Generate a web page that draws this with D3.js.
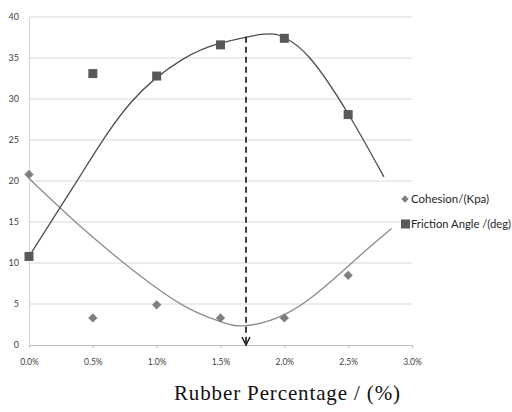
<!DOCTYPE html>
<html>
<head>
<meta charset="utf-8">
<script src="https://cdn.jsdelivr.net/npm/d3@7"></script>
<style>
  html, body { margin: 0; padding: 0; background: #fff; }
  svg { display: block; }
</style>
</head>
<body>
<svg id="chart" width="512" height="412"></svg>
<script>
// Rubber content (%) for each test mix
const rubberPct = [0, 0.5, 1.0, 1.5, 2.0, 2.5];
// Measured cohesion (kPa) and friction angle (deg)
const cohesion = [20.8, 3.3, 4.9, 3.3, 3.3, 8.5];
const friction = [10.8, 33.1, 32.8, 36.6, 37.4, 28.1];
// Trend curves, sampled as [rubber %, value]
const frictionTrend = [[0, 10.8], [0.4, 20.6], [0.8, 29.6], [1.2, 34.8],
  [1.5, 36.8], [1.84, 37.9], [2.0, 37.5], [2.2, 35], [2.5, 28.2], [2.78, 20.5]];
const cohesionTrend = [[0, 20.3], [0.4, 14.5], [0.8, 9.3], [1.2, 4.9], [1.5, 2.85],
  [1.7, 2.35], [2.0, 3.7], [2.3, 6.9], [2.6, 11.0], [2.84, 14.2]];
// Optimum rubber content marker
const optimumPct = 1.7;
const optimumTop = 37.6;
// Axis ticks
const xTicks = [0, 0.5, 1.0, 1.5, 2.0, 2.5, 3.0];
const yTicks = [0, 5, 10, 15, 20, 25, 30, 35, 40];
const seriesNames = ["Cohesion/(Kpa)", "Friction Angle /(deg)"];
const xTitle = "Rubber Percentage / (%)";

const svg = d3.select("#chart");
const x = d3.scaleLinear().domain([0, 3]).range([29, 412]);
const y = d3.scaleLinear().domain([0, 40]).range([345, 17]);

const tickFont = "Lato, 'Open Sans', sans-serif";

// horizontal gridlines
svg.append("g").selectAll("line").data(yTicks.filter(d => d > 0)).join("line")
  .attr("x1", x(0)).attr("x2", x(3))
  .attr("y1", d => y(d)).attr("y2", d => y(d))
  .attr("stroke", "#d9d9d9").attr("stroke-width", 1.2);

// y axis
const yAxis = svg.append("g").attr("transform", `translate(${x(0)},0)`)
  .call(d3.axisLeft(y).tickValues(yTicks).tickSize(0).tickPadding(10).tickFormat(d3.format("d")));
yAxis.select(".domain").attr("stroke", "#d9d9d9").attr("stroke-width", 1.2);
yAxis.selectAll("text").attr("font-family", tickFont).attr("font-size", 9).attr("fill", "#404040");

// x axis
const xAxis = svg.append("g").attr("transform", `translate(0,${y(0)})`)
  .call(d3.axisBottom(x).tickValues(xTicks).tickSize(3).tickPadding(11).tickFormat(d => d.toFixed(1) + "%"));
xAxis.select(".domain").attr("stroke", "#bfbfbf").attr("stroke-width", 1);
xAxis.selectAll(".tick line").attr("stroke", "#bfbfbf");
xAxis.selectAll("text").attr("font-family", tickFont).attr("font-size", 8.5).attr("fill", "#404040");

// trend curves
const line = d3.line().x(d => x(d[0])).y(d => y(d[1])).curve(d3.curveNatural);
svg.append("path").datum(cohesionTrend).attr("d", line)
  .attr("fill", "none").attr("stroke", "#8c8c8c").attr("stroke-width", 1.3);
svg.append("path").datum(frictionTrend).attr("d", line)
  .attr("fill", "none").attr("stroke", "#4d4d4d").attr("stroke-width", 1.3);

// optimum marker: dashed drop line with open arrow
svg.append("line")
  .attr("x1", x(optimumPct)).attr("x2", x(optimumPct))
  .attr("y1", y(optimumTop)).attr("y2", y(0) - 1)
  .attr("stroke", "#111").attr("stroke-width", 1.6).attr("stroke-dasharray", "6,4");
svg.append("path")
  .attr("d", `M${x(optimumPct) - 4},${y(0) - 8} L${x(optimumPct)},${y(0)} L${x(optimumPct) + 4},${y(0) - 8}`)
  .attr("fill", "none").attr("stroke", "#111").attr("stroke-width", 1.4);

// data markers
svg.append("g").selectAll("rect").data(rubberPct).join("rect")
  .attr("x", -3.3).attr("y", -3.3).attr("width", 6.6).attr("height", 6.6)
  .attr("transform", (d, i) => `translate(${x(d)},${y(cohesion[i])}) rotate(45)`)
  .attr("fill", "#7f7f7f");
svg.append("g").selectAll("rect").data(rubberPct).join("rect")
  .attr("x", d => x(d) - 4.5).attr("width", 9)
  .attr("y", (d, i) => y(friction[i]) - 4.5).attr("height", 9)
  .attr("fill", "#595959");

// legend
const legend = svg.append("g").attr("font-family", tickFont).attr("font-size", 11.5).attr("fill", "#262626");
legend.append("rect").attr("x", -2.6).attr("y", -2.6).attr("width", 5.2).attr("height", 5.2)
  .attr("transform", "translate(405,199) rotate(45)").attr("fill", "#7f7f7f");
legend.append("text").attr("x", 411).attr("y", 199).attr("dy", "0.35em").text(seriesNames[0]);
legend.append("rect").attr("x", 401).attr("y", 219.5).attr("width", 9).attr("height", 9).attr("fill", "#595959");
legend.append("text").attr("x", 411).attr("y", 224).attr("dy", "0.35em")
  .attr("textLength", 100).attr("lengthAdjust", "spacingAndGlyphs").text(seriesNames[1]);

// x title
svg.append("text").attr("x", 287).attr("y", 400).attr("text-anchor", "middle")
  .attr("font-family", "'Liberation Serif', serif").attr("font-size", 21).attr("fill", "#111")
  .attr("textLength", 226).attr("lengthAdjust", "spacing")
  .text(xTitle);
</script>
</body>
</html>
